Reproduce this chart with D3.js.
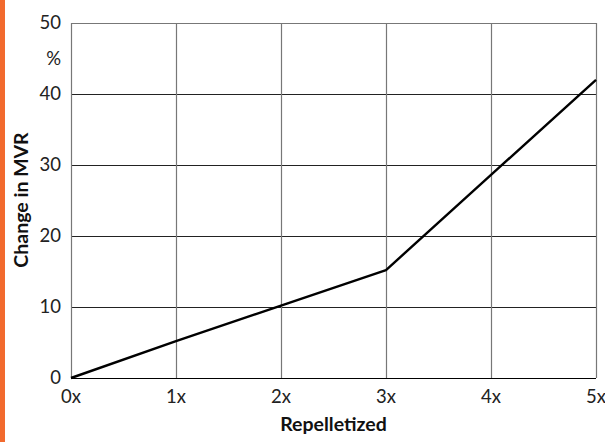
<!DOCTYPE html>
<html><head><meta charset="utf-8">
<script src="https://cdn.jsdelivr.net/npm/d3@7"></script>
<style>body{margin:0;background:#fff;} svg{display:block;}</style>
</head><body>
<svg id="c" width="605" height="442"></svg>
<script>
const categories = ["0x","1x","2x","3x","4x","5x"];
const values = [0, 5.2, 10.2, 15.2, 28.6, 42];
const yTicks = [0, 10, 20, 30, 40, 50];
const yUnit = "%";
const xTitle = "Repelletized";
const yTitle = "Change in MVR";

const svg = d3.select("#c");
const W = 605, H = 442;
const m = {left: 71, right: 9, top: 23, bottom: 64};
const font = "Lato, 'Noto Sans', sans-serif";
const tickSize = 18.5, titleSize = 19.5;

svg.append("rect").attr("x",0).attr("y",0).attr("width",5).attr("height",H).attr("fill","#f26a2e");

const x = d3.scalePoint().domain(categories).range([m.left, W - m.right]);
const y = d3.scaleLinear().domain([0, 50]).range([H - m.bottom, m.top]);

const g = svg.append("g");
g.selectAll("line.h").data(yTicks.filter(d => d > 0 && d < 50)).join("line")
  .attr("x1", m.left).attr("x2", W - m.right)
  .attr("y1", d => y(d) + 0.5).attr("y2", d => y(d) + 0.5)
  .attr("stroke", "#222").attr("stroke-width", 1);
g.append("line").attr("x1", m.left).attr("x2", W - m.right)
  .attr("y1", y(50) + 0.5).attr("y2", y(50) + 0.5).attr("stroke", "#777");
g.selectAll("line.v").data(categories).join("line")
  .attr("x1", d => Math.round(x(d)) + 0.5).attr("x2", d => Math.round(x(d)) + 0.5)
  .attr("y1", y(50)).attr("y2", y(0))
  .attr("stroke", "#777").attr("stroke-width", 1.2);
g.append("line").attr("x1", m.left).attr("x2", W - m.right)
  .attr("y1", y(0) + 0.5).attr("y2", y(0) + 0.5).attr("stroke", "#000").attr("stroke-width", 1.2);

g.selectAll("text.yt").data(yTicks).join("text")
  .attr("x", m.left - 10).attr("y", d => y(d)).attr("dy", "0.35em")
  .attr("text-anchor", "end").attr("font-family", font).attr("font-size", tickSize).attr("fill", "#222")
  .text(d => d);
g.append("text").attr("x", m.left - 10).attr("y", (y(50) + y(40)) / 2).attr("dy", "0.35em")
  .attr("text-anchor", "end").attr("font-family", font).attr("font-size", tickSize).attr("fill", "#222").text(yUnit);

g.selectAll("text.xt").data(categories).join("text")
  .attr("x", d => x(d)).attr("y", y(0) + 25)
  .attr("text-anchor", "middle").attr("font-family", font).attr("font-size", tickSize).attr("fill", "#222")
  .text(d => d);

svg.append("text").attr("x", (m.left + W - m.right) / 2).attr("y", 431)
  .attr("text-anchor", "middle").attr("font-family", font).attr("font-size", titleSize).attr("font-weight", "bold").attr("fill", "#111")
  .text(xTitle);
svg.append("text").attr("transform", `translate(28,200) rotate(-90)`)
  .attr("text-anchor", "middle").attr("font-family", font).attr("font-size", titleSize).attr("font-weight", "bold").attr("fill", "#111")
  .text(yTitle);

const line = d3.line().x((d, i) => x(categories[i])).y(d => y(d));
svg.append("path").datum(values).attr("d", line)
  .attr("fill", "none").attr("stroke", "#000").attr("stroke-width", 2.4).attr("stroke-linejoin", "round");
</script>
</body></html>
